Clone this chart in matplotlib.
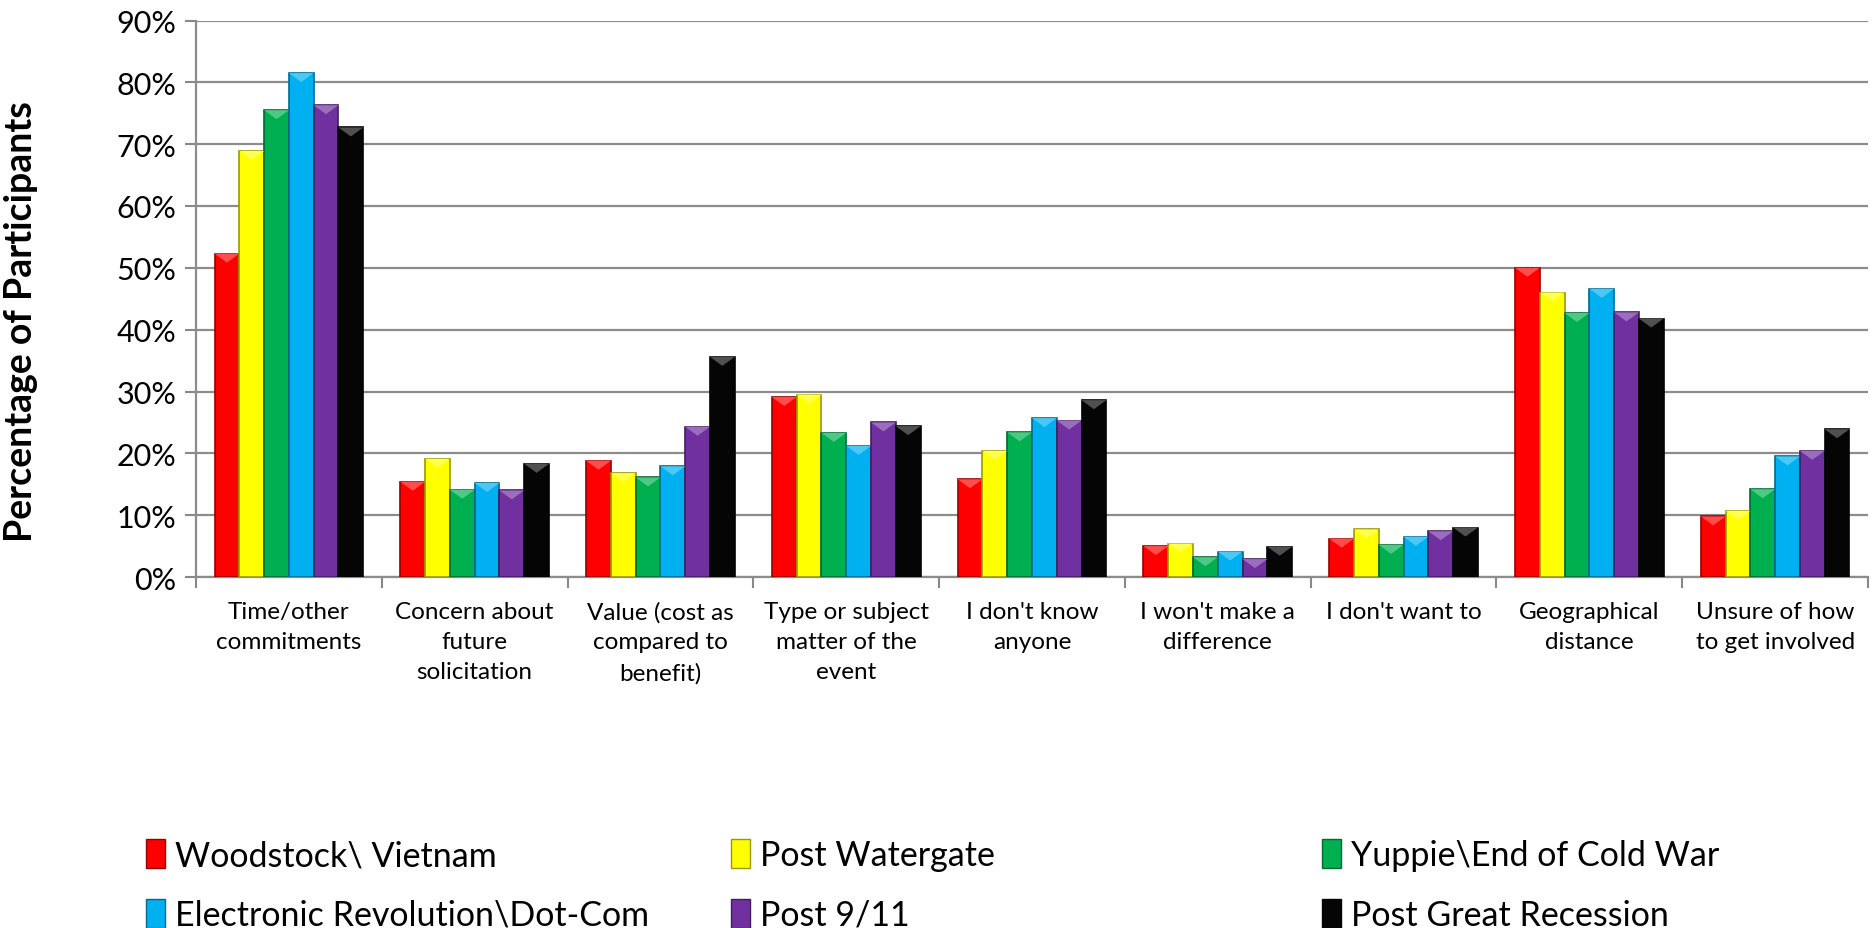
import numpy as np
import matplotlib
matplotlib.use("Agg")
import matplotlib.pyplot as plt
from matplotlib.patches import Polygon, Patch
from matplotlib.colors import to_rgb

plt.rcParams['font.family'] = ['Lato', 'DejaVu Sans']

categories = ["Time/other\ncommitments", "Concern about\nfuture\nsolicitation",
              "Value (cost as\ncompared to\nbenefit)", "Type or subject\nmatter of the\nevent",
              "I don't know\nanyone", "I won't make a\ndifference", "I don't want to",
              "Geographical\ndistance", "Unsure of how\nto get involved"]

series_names = ["Woodstock\\ Vietnam", "Post Watergate", "Yuppie\\End of Cold War",
                "Electronic Revolution\\Dot-Com", "Post 9/11", "Post Great Recession"]

woodstock = [52.3, 15.4, 18.8, 29.1, 15.8, 5.0, 6.2, 50.0, 9.8]
watergate = [68.9, 19.1, 16.8, 29.5, 20.4, 5.4, 7.7, 46.0, 10.7]
yuppie = [75.5, 14.1, 16.1, 23.3, 23.4, 3.2, 5.2, 42.7, 14.2]
dotcom = [81.5, 15.2, 17.9, 21.2, 25.7, 4.1, 6.5, 46.6, 19.5]
post911 = [76.3, 14.0, 24.3, 25.0, 25.3, 2.9, 7.4, 42.8, 20.4]
recession = [72.7, 18.3, 35.6, 24.4, 28.6, 4.9, 8.0, 41.8, 23.9]

values = [woodstock, watergate, yuppie, dotcom, post911, recession]
colors = ["#FF0000", "#FFFF00", "#00B050", "#00B0F0", "#7030A0", "#050505"]


def shade(c, f):
    r, g, b = to_rgb(c)
    if f < 1:
        return (r * f, g * f, b * f)
    return (r + (1 - r) * (f - 1), g + (1 - g) * (f - 1), b + (1 - b) * (f - 1))


fig = plt.figure(figsize=(18.72, 9.29), dpi=100)
ax = fig.add_axes([196 / 1872, 1 - 578 / 929, (1868 - 196) / 1872, (578 - 21.5) / 929])

x = np.arange(len(categories))
n = len(values)
width = 0.8 / n
ymax = 90
px_to_data = ymax / 556.5

for i, (vals, c) in enumerate(zip(values, colors)):
    pos = x - 0.4 + width * (i + 0.5)
    ax.bar(pos, vals, width=width, color=c, edgecolor=shade(c, 0.6), linewidth=1.2, zorder=3)
    # bevel highlight at the top of each bar
    th = 9 * px_to_data
    for xp, v in zip(pos, vals):
        tri = Polygon([[xp - width / 2, v], [xp + width / 2, v], [xp, v - th]],
                      closed=True, facecolor=shade(c, 1.3), edgecolor='none', zorder=4)
        ax.add_patch(tri)

ax.set_xlim(-0.5, len(categories) - 0.5)
ax.set_ylim(0, ymax)
ax.set_yticks(np.arange(0, 91, 10))
ax.set_yticklabels([f"{v}%" for v in range(0, 91, 10)], fontsize=22)
ax.set_xticks(x)
ax.set_xticklabels(categories, fontsize=17.5, linespacing=1.55, va='top')
ax.set_xticks(np.arange(-0.5, len(categories), 1), minor=True)
ax.tick_params(axis='x', which='major', length=0, pad=17)
ax.tick_params(axis='x', which='minor', length=8, width=1.5, color='#888888')
ax.tick_params(axis='y', length=8, width=1.5, color='#888888', pad=6)
ax.grid(axis='y', color='#8c8c8c', linewidth=1.6, zorder=0)
for s in ['top', 'right']:
    ax.spines[s].set_visible(False)
for s in ['left', 'bottom']:
    ax.spines[s].set_color('#8c8c8c')
    ax.spines[s].set_linewidth(1.6)

fig.text(21 / 1872, 1 - 322 / 929, "Percentage of Participants", rotation=90,
         fontsize=27, fontweight='bold', ha='center', va='center')

# legend: three columns, two rows
col_x = [146 / 1872, 731 / 1872, 1322 / 1872]
for k in range(3):
    handles = [Patch(facecolor=colors[j], edgecolor=shade(colors[j], 0.6)) for j in (k, k + 3)]
    labels = [series_names[j] for j in (k, k + 3)]
    fig.legend(handles, labels, loc='upper left', bbox_to_anchor=(col_x[k], 1 - 840 / 929),
               frameon=False, fontsize=24.5, handlelength=0.55, handleheight=0.95,
               handletextpad=0.3, labelspacing=0.8, borderpad=0, borderaxespad=0)

fig.savefig("out.png", dpi=100)
